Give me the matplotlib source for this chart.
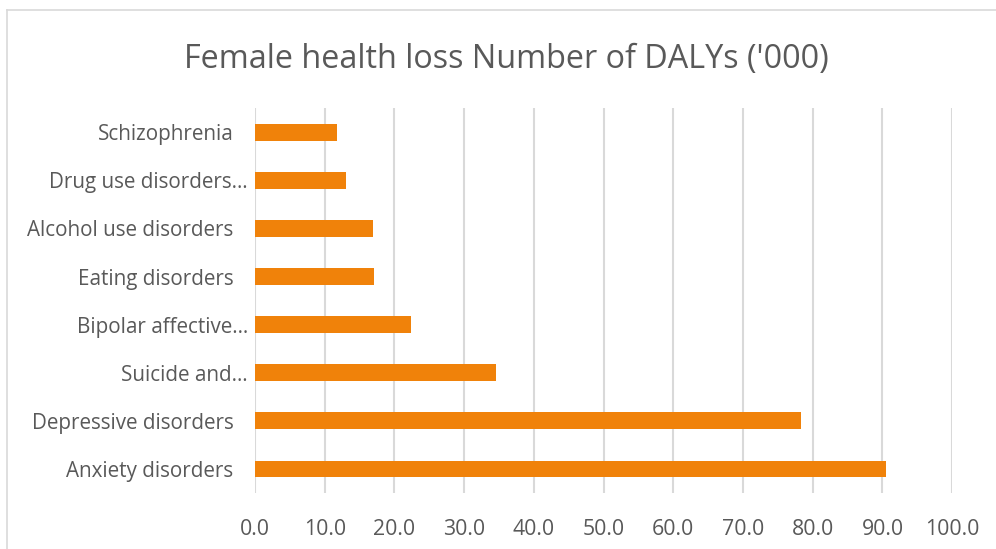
import matplotlib
matplotlib.use("Agg")
import matplotlib.pyplot as plt

# data (bottom to top)
categories = ["Anxiety disorders", "Depressive disorders", "Suicide and…",
              "Bipolar affective…", "Eating disorders", "Alcohol use disorders",
              "Drug use disorders…", "Schizophrenia"]
dalys = [90.5, 78.3, 34.5, 22.4, 17.0, 16.9, 13.0, 11.8]
xticks = [0, 10, 20, 30, 40, 50, 60, 70, 80, 90, 100]

plt.rcParams['font.family'] = ['Open Sans', 'DejaVu Sans']
text_col = '#595959'
grid_col = '#d9d9d9'
bar_col = '#f0820a'

fig = plt.figure(figsize=(9.96, 5.49), dpi=100)
ax = fig.add_axes([0.256, 0.102, 0.700, 0.701])

ypos = list(range(len(categories)))
ax.barh(ypos, dalys, height=0.35, color=bar_col, zorder=3)

ax.set_xlim(0, 100)
ax.set_ylim(-0.5, len(categories) - 0.5)
ax.set_xticks(xticks)
ax.set_xticklabels([f"{v:.1f}" for v in xticks])
ax.set_yticks(ypos)
ax.set_yticklabels(categories)
ax.tick_params(axis='x', length=0, pad=18.5, labelsize=15.3, labelcolor=text_col)
ax.tick_params(axis='y', length=0, pad=5, labelsize=14.9, labelcolor=text_col)

# Excel leaves a gap after the labels that were not cut short
for tick, name in zip(ax.yaxis.get_major_ticks(), categories):
    if not name.endswith("…"):
        tick.set_pad(15.5)

ax.grid(axis='x', color=grid_col, linewidth=1.5, zorder=0)
for s in ax.spines.values():
    s.set_visible(False)

fig.suptitle("Female health loss Number of DALYs ('000)", x=0.508, y=0.922,
             fontsize=23.3, color=text_col)

# chart area border (only left and top are visible in the crop)
fig.add_artist(plt.Line2D([7 / 996, 7 / 996], [0, 1 - 9.5 / 549],
                          transform=fig.transFigure, color=grid_col, lw=1.2))
fig.add_artist(plt.Line2D([7 / 996, 1], [1 - 9.5 / 549, 1 - 9.5 / 549],
                          transform=fig.transFigure, color=grid_col, lw=1.2))

fig.savefig("out.png", dpi=100)
